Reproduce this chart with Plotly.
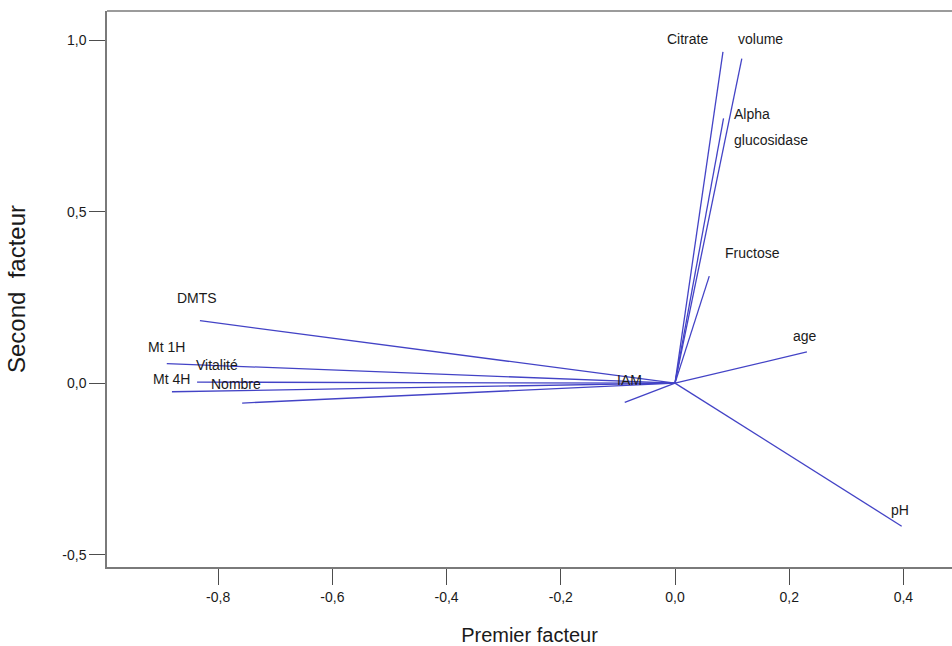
import plotly.graph_objects as go

# Factor loadings (premier facteur, second facteur)
variables = ["Citrate", "volume", "Alpha glucosidase", "Fructose", "age", "pH",
             "IAM", "DMTS", "Mt 1H", "Vitalité", "Mt 4H", "Nombre"]
factor1 = [0.084, 0.117, 0.085, 0.060, 0.231, 0.397,
           -0.088, -0.832, -0.890, -0.837, -0.881, -0.758]
factor2 = [0.966, 0.946, 0.772, 0.312, 0.091, -0.417,
           -0.056, 0.182, 0.057, 0.003, -0.025, -0.058]

x_ticks = [-0.8, -0.6, -0.4, -0.2, 0.0, 0.2, 0.4]
x_tick_labels = ["-0,8", "-0,6", "-0,4", "-0,2", "0,0", "0,2", "0,4"]
y_ticks = [-0.5, 0.0, 0.5, 1.0]
y_tick_labels = ["-0,5", "0,0", "0,5", "1,0"]

# Label placement relative to each vector's tip (pixels: right, up)
label_dx = [-35, 19, 8, 43, -2, -2, 5, -3, 0, 20, 0, -6]
label_dy = [13, 20, 4, 23, 16, 16, 22, 23, 17, 17, 13, 19]

LINE = "#4343c6"
TEXT = "#1a1a1a"
AXIS = "#7a7a7a"
FONT = "Liberation Sans, Arial"

fig = go.Figure()

for name, fx, fy in zip(variables, factor1, factor2):
    fig.add_trace(go.Scatter(
        x=[0, fx], y=[0, fy], mode="lines",
        line=dict(color=LINE, width=1.3),
        hoverinfo="text", hovertext=name, showlegend=False,
    ))

for name, fx, fy, dx, dy in zip(variables, factor1, factor2, label_dx, label_dy):
    parts = name.split(" ") if name == "Alpha glucosidase" else [name]
    if len(parts) > 1:
        for i, part in enumerate(parts):
            fig.add_annotation(
                x=fx, y=fy, text=part, showarrow=False,
                xanchor="left", yanchor="middle",
                xshift=dx, yshift=dy - i * 26,
                font=dict(family=FONT, size=14, color=TEXT),
            )
    else:
        fig.add_annotation(
            x=fx, y=fy, text=name, showarrow=False,
            xanchor="center", yanchor="middle",
            xshift=dx, yshift=dy,
            font=dict(family=FONT, size=14, color=TEXT),
        )

# Frame line along the top of the plotting area
fig.add_shape(type="line", xref="paper", yref="paper", x0=0, x1=1, y0=1, y1=1,
              line=dict(color=AXIS, width=1.5))

fig.update_layout(
    width=952, height=646,
    margin=dict(l=107, r=0, t=11, b=79),
    paper_bgcolor="white", plot_bgcolor="white",
    font=dict(family=FONT, color=TEXT),
    xaxis=dict(
        range=[-0.9947, 0.4851], tickvals=x_ticks, ticktext=x_tick_labels,
        showgrid=False, zeroline=False, showline=True,
        linecolor=AXIS, linewidth=1.5,
        ticks="outside", ticklen=16, tickcolor="#4d4d4d", tickwidth=1,
        tickfont=dict(size=14, color=TEXT),
        title=dict(text="Premier facteur", font=dict(size=20, color=TEXT), standoff=26),
    ),
    yaxis=dict(
        range=[-0.536, 1.085], tickvals=y_ticks, ticktext=y_tick_labels,
        showgrid=False, zeroline=False, showline=True,
        linecolor=AXIS, linewidth=1.5,
        ticks="outside", ticklen=16, tickcolor="#4d4d4d", tickwidth=1,
        tickfont=dict(size=14, color=TEXT),
        title=dict(text="Second  facteur", font=dict(size=24, color=TEXT), standoff=30),
    ),
)

fig.write_html("out.html")
